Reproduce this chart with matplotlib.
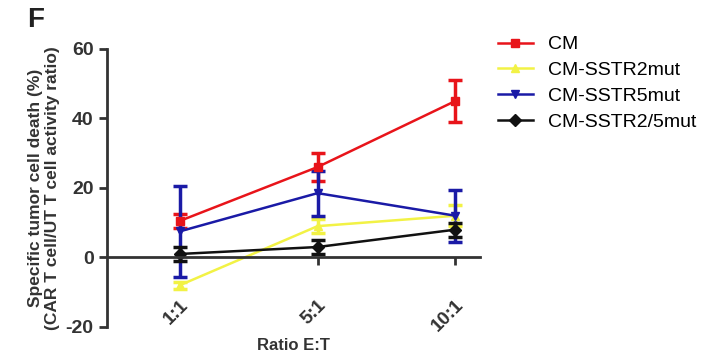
import matplotlib.pyplot as plt
from matplotlib.lines import Line2D
import numpy as np

plt.rcParams['font.family'] = ['Liberation Sans', 'DejaVu Sans']
plt.rcParams['axes.unicode_minus'] = False

ratios = ['1:1', '5:1', '10:1']
series = ['CM', 'CM-SSTR2mut', 'CM-SSTR5mut', 'CM-SSTR2/5mut']
cm_mean = [10.5, 26, 45]
cm_err = [2, 4, 6]
sstr2_mean = [-8, 9, 12]
sstr2_err = [1, 2, 3]
sstr5_mean = [7.5, 18.5, 12]
sstr5_err = [13, 6.5, 7.5]
sstr25_mean = [1, 3, 8]
sstr25_err = [2, 2, 2]

colors = ['#e8141a', '#f2f245', '#1a1aa6', '#111111']
markers = ['s', '^', 'v', 'D']
means = [cm_mean, sstr2_mean, sstr5_mean, sstr25_mean]
errs = [cm_err, sstr2_err, sstr5_err, sstr25_err]

fig = plt.figure(figsize=(7.02, 3.58), dpi=100)
ax = fig.add_axes([0.152, 0.0866, 0.532, 0.777])

x = np.arange(len(ratios))
handles = []
for name, m, e, c, mk in zip(series, means, errs, colors, markers):
    ax.errorbar(x, m, yerr=e, color=c, marker=mk, markersize=6, lw=1.8,
                elinewidth=2.5, capsize=5, capthick=2.5)
    handles.append(Line2D([], [], color=c, marker=mk, markersize=6, lw=1.8, label=name))

ax.set_xlim(-0.53, 2.18)
ax.set_ylim(-20, 60)
ax.set_yticks([-20, 0, 20, 40, 60])
ax.spines['top'].set_visible(False)
ax.spines['right'].set_visible(False)
ax.spines['bottom'].set_position(('data', 0))
for s in ['left', 'bottom']:
    ax.spines[s].set_linewidth(2)
    ax.spines[s].set_color('#333333')
ax.tick_params(axis='both', width=2, length=6, color='#333333')
ax.set_xticks(x)
ax.set_xticklabels(ratios, rotation=45, ha='right', rotation_mode='anchor',
                   fontweight='bold', fontsize=13.5, color='#333333')
ax.tick_params(axis='x', pad=22)
for lab in ax.get_yticklabels():
    lab.set_fontweight('bold')
    lab.set_fontsize(14)
    lab.set_color('#333333')

ax.set_xlabel('Ratio E:T', fontweight='bold', fontsize=12, color='#333333')
ax.xaxis.set_label_coords(0.5, -0.04)
ax.set_ylabel('Specific tumor cell death (%)\n(CAR T cell/UT T cell activity ratio)',
              fontweight='bold', fontsize=12.5, color='#333333', labelpad=4)

fig.text(0.038, 0.925, 'F', fontsize=20, fontweight='bold', color='#222222')

ax.legend(handles=handles, loc='upper left', bbox_to_anchor=(1.0, 1.11), frameon=False,
          fontsize=14, handlelength=1.8, handletextpad=0.8, labelspacing=0.42)

fig.savefig('out.png')
